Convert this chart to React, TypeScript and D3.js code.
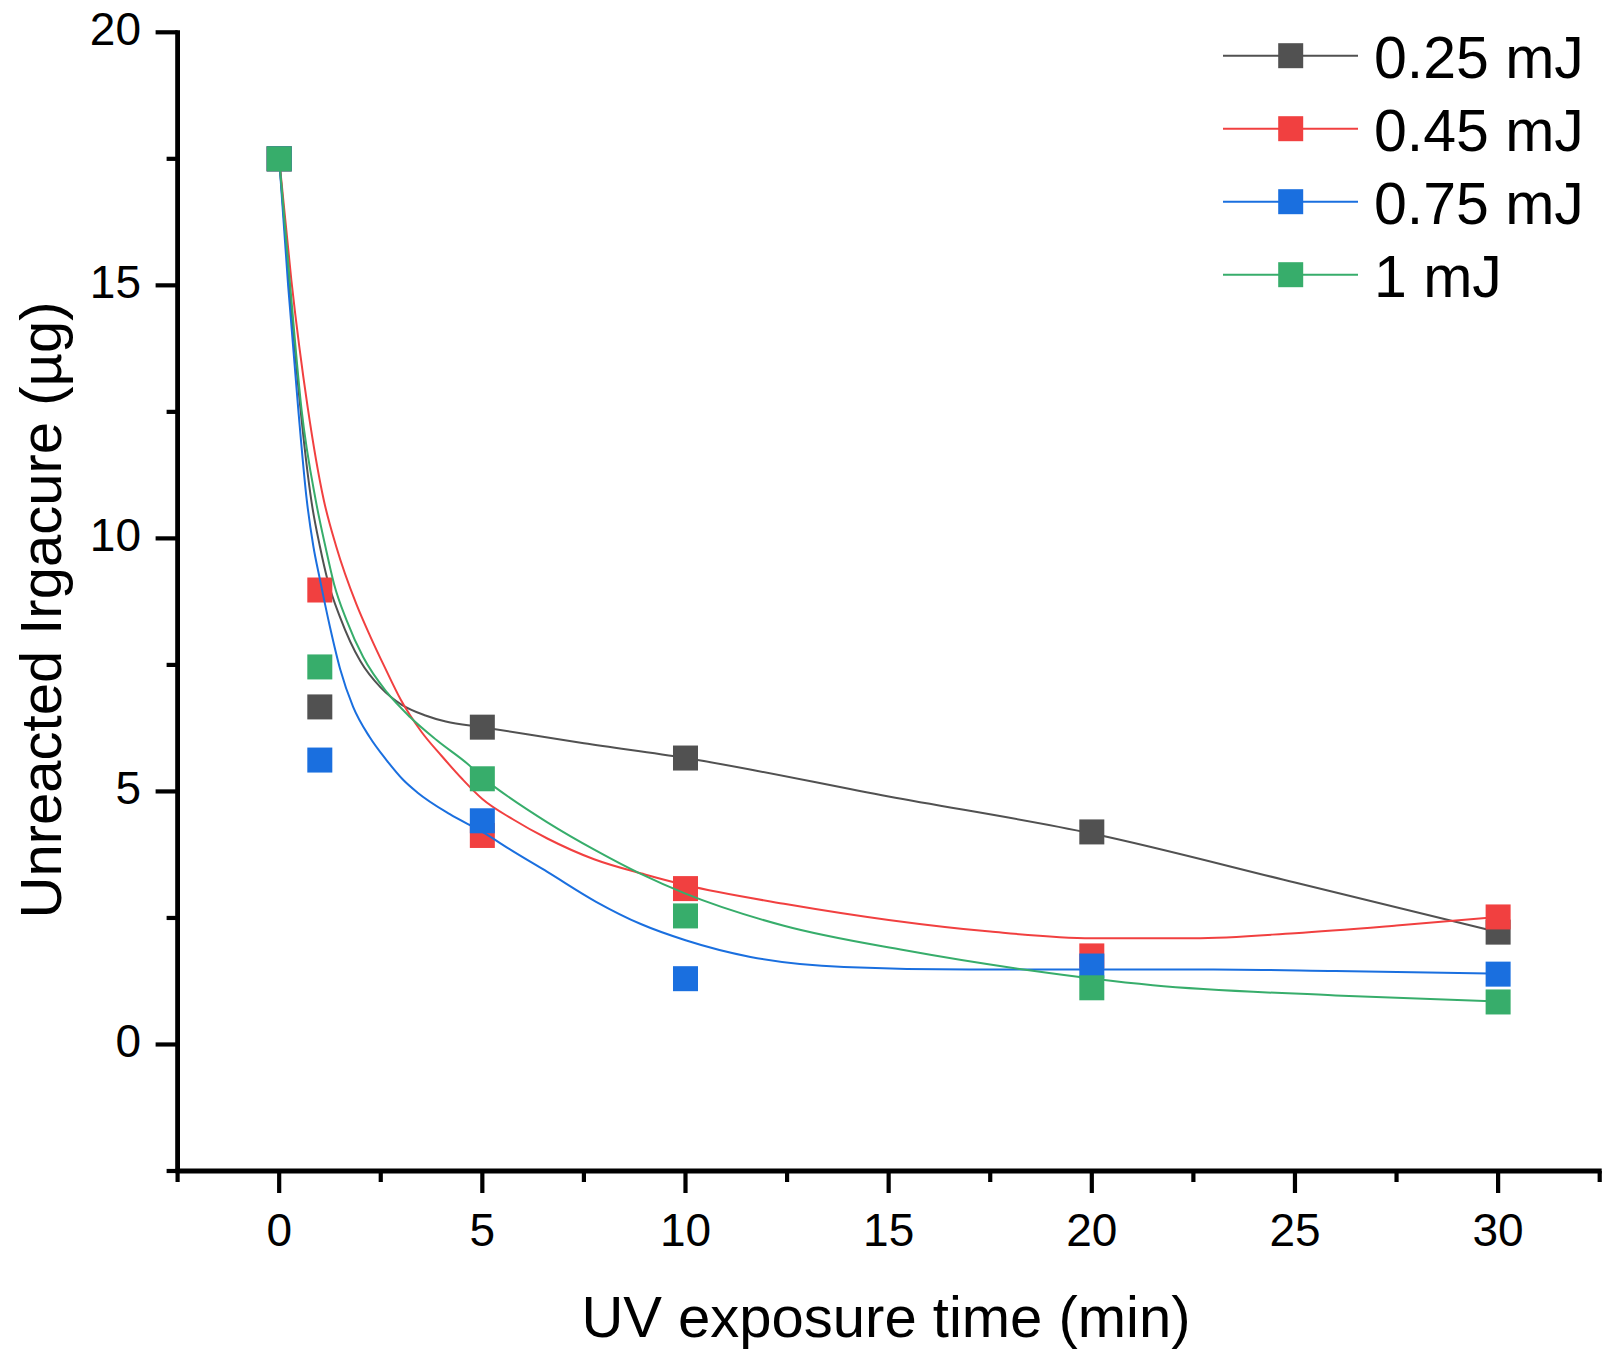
import * as d3 from "d3";

// ── Data ─────────────────────────────────────────────────────
const TIMES = [0, 1, 5, 10, 20, 30];
const LABELS = ["0.25 mJ", "0.45 mJ", "0.75 mJ", "1 mJ"];
const COLORS = ["#515151", "#F14040", "#1A6FDF", "#37AD6B"];

const Y_025 = [17.5, 6.67, 6.27, 5.66, 4.2, 2.22];
const Y_045 = [17.5, 8.98, 4.13, 3.08, 1.75, 2.52];
const Y_075 = [17.5, 5.62, 4.42, 1.3, 1.55, 1.39];
const Y_1 = [17.5, 7.46, 5.25, 2.54, 1.12, 0.84];

// fitted curves
const FIT_025_T = [0, 0.25, 0.5, 0.8, 1, 1.2, 1.5, 2, 2.5, 3, 3.6, 4.1, 5, 7.5, 10, 15, 20, 25, 30];
const FIT_025_Y = [17.5, 15.0, 12.75, 10.7, 9.85, 9.15, 8.44, 7.57, 7.05, 6.72, 6.5, 6.38, 6.27, 5.95, 5.66, 4.9, 4.17, 3.2, 2.22];

const FIT_045_T = [0, 0.3, 0.7, 1.1, 1.4, 1.9, 2.25, 2.6, 3, 3.5, 4, 4.5, 5, 5.75, 6.6, 7.75, 9, 10, 12.5, 15, 17.5, 20, 22.5, 25, 27.5, 30];
const FIT_045_Y = [17.5, 15.1, 12.6, 10.75, 9.85, 8.7, 8.05, 7.45, 6.8, 6.18, 5.7, 5.25, 4.85, 4.45, 4.07, 3.66, 3.36, 3.15, 2.77, 2.46, 2.23, 2.1, 2.1, 2.2, 2.35, 2.52];

const FIT_075_T = [0, 0.22, 0.47, 0.68, 0.84, 1, 1.25, 1.5, 1.82, 2.23, 2.65, 3.05, 3.4, 4.2, 5, 5.75, 6.6, 7.8, 8.9, 10, 11.6, 13.9, 17, 20, 23, 26, 30];
const FIT_075_Y = [17.5, 15.0, 12.55, 10.75, 9.85, 9.2, 8.25, 7.42, 6.67, 6.07, 5.61, 5.23, 4.98, 4.55, 4.2, 3.82, 3.41, 2.82, 2.38, 2.06, 1.73, 1.53, 1.48, 1.48, 1.48, 1.45, 1.4];

const FIT_1_T = [0, 0.27, 0.55, 0.9, 1.14, 1.35, 1.66, 2.07, 2.65, 3.22, 3.88, 4.7, 5, 5.3, 6.6, 7.8, 8.9, 10, 12.4, 15.4, 18.5, 21.5, 26, 30];
const FIT_1_Y = [17.5, 15.0, 12.55, 10.75, 9.83, 9.1, 8.38, 7.65, 6.96, 6.47, 6.01, 5.5, 5.27, 5.09, 4.39, 3.83, 3.37, 2.98, 2.35, 1.86, 1.46, 1.17, 0.97, 0.85];

const X_MAJOR = [0, 5, 10, 15, 20, 25, 30];
const X_MINOR = [-2.5, 2.5, 7.5, 12.5, 17.5, 22.5, 27.5, 32.5];
const Y_MAJOR = [0, 5, 10, 15, 20];
const Y_MINOR = [-2.5, 2.5, 7.5, 12.5, 17.5];

const SERIES = [
  { pts: Y_025, fitT: FIT_025_T, fitY: FIT_025_Y },
  { pts: Y_045, fitT: FIT_045_T, fitY: FIT_045_Y },
  { pts: Y_075, fitT: FIT_075_T, fitY: FIT_075_Y },
  { pts: Y_1, fitT: FIT_1_T, fitY: FIT_1_Y },
];

// ── Layout ────────────────────────────────────────────────────
const W = 1610, H = 1363;
const FONT = "Arial, 'Liberation Sans', Helvetica, sans-serif";
const MK = 25;

const x = d3.scaleLinear().domain([-2.5, 32.5]).range([177.6, 1599.7]);
const y = d3.scaleLinear().domain([-2.5, 20]).range([1171, 32.3]);

const line = d3.line<[number, number]>()
  .x((d) => x(d[0]))
  .y((d) => y(d[1]))
  .curve(d3.curveMonotoneX);

export default function App() {
  const left = x(-2.5), right = x(32.5), bottom = y(-2.5), top = y(20);

  return (
    <svg width={W} height={H} viewBox={`0 0 ${W} ${H}`}
      style={{ position: "absolute", left: 0, top: 0, background: "#fff" }}
      fontFamily={FONT}>
      <rect width={W} height={H} fill="#fff" />

      {/* series: fitted curve, then symbols */}
      {SERIES.map((s, i) => (
        <g key={LABELS[i]}>
          <path
            d={line(s.fitT.map((t, k) => [t, s.fitY[k]] as [number, number])) ?? ""}
            fill="none" stroke={COLORS[i]} strokeWidth={2} />
          {s.pts.map((v, k) => (
            <rect key={k} x={x(TIMES[k]) - MK / 2} y={y(v) - MK / 2}
              width={MK} height={MK} fill={COLORS[i]} />
          ))}
        </g>
      ))}

      {/* axes */}
      <g stroke="#000">
        <line x1={left} x2={left} y1={top - 2} y2={bottom + 2} strokeWidth={4.8} />
        <line x1={left - 2} x2={right + 2} y1={bottom} y2={bottom} strokeWidth={4.8} />
        {X_MAJOR.map((t) => (
          <line key={"xM" + t} x1={x(t)} x2={x(t)} y1={bottom} y2={bottom + 22} strokeWidth={4.2} />
        ))}
        {X_MINOR.map((t) => (
          <line key={"xm" + t} x1={x(t)} x2={x(t)} y1={bottom} y2={bottom + 11} strokeWidth={4.2} />
        ))}
        {Y_MAJOR.map((v) => (
          <line key={"yM" + v} x1={left - 22} x2={left} y1={y(v)} y2={y(v)} strokeWidth={4.2} />
        ))}
        {Y_MINOR.map((v) => (
          <line key={"ym" + v} x1={left - 11} x2={left} y1={y(v)} y2={y(v)} strokeWidth={4.2} />
        ))}
      </g>

      <g fontSize={46} fill="#000">
        {X_MAJOR.map((t) => (
          <text key={"xl" + t} x={x(t)} y={bottom + 75} textAnchor="middle">{t}</text>
        ))}
        {Y_MAJOR.map((v) => (
          <text key={"yl" + v} x={141} y={y(v) + 12.5} textAnchor="end">{v}</text>
        ))}
      </g>

      <text x={886} y={1337} fontSize={58} textAnchor="middle" fill="#000">
        UV exposure time (min)
      </text>
      <text transform="translate(61,610) rotate(-90)" fontSize={58} textAnchor="middle" fill="#000">
        Unreacted Irgacure (µg)
      </text>

      {/* legend */}
      {LABELS.map((lab, i) => {
        const ry = 55.7 + i * 73;
        return (
          <g key={"lg" + lab}>
            <line x1={1223} x2={1358} y1={ry} y2={ry} stroke={COLORS[i]} strokeWidth={2} />
            <rect x={1290.7 - MK / 2} y={ry - MK / 2} width={MK} height={MK} fill={COLORS[i]} />
            <text x={1374} y={ry + 22.6} fontSize={59} fill="#000">
              {lab}
            </text>
          </g>
        );
      })}
    </svg>
  );
}
